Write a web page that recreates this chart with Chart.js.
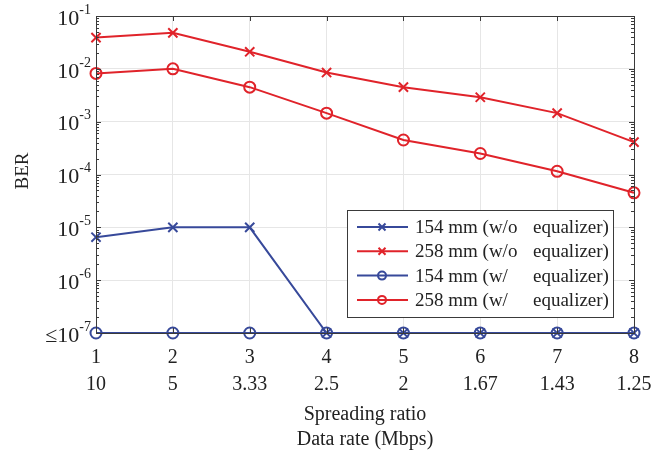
<!DOCTYPE html>
<html>
<head>
<meta charset="utf-8">
<script src="https://cdn.jsdelivr.net/npm/chart.js@4"></script>
<style>
  html, body { margin: 0; padding: 0; background: #fff; }
  #wrap { width: 663px; height: 453px; }
</style>
</head>
<body>
<div id="wrap"><canvas id="c" width="663" height="453"></canvas></div>
<script>
// ---- data ----
const ratioLabels = ['1', '2', '3', '4', '5', '6', '7', '8'];
const rateLabels = ['10', '5', '3.33', '2.5', '2', '1.67', '1.43', '1.25'];

const ber154NoEq = [6.5e-6, 1e-5, 1e-5, 1e-7, 1e-7, 1e-7, 1e-7, 1e-7];
const ber258NoEq = [3.9e-2, 4.8e-2, 2.1e-2, 8.5e-3, 4.5e-3, 2.9e-3, 1.45e-3, 4.1e-4];
const ber154Eq = [1e-7, 1e-7, 1e-7, 1e-7, 1e-7, 1e-7, 1e-7, 1e-7];
const ber258Eq = [8.2e-3, 1.0e-2, 4.5e-3, 1.45e-3, 4.5e-4, 2.5e-4, 1.15e-4, 4.5e-5];

const yDecades = [-1, -2, -3, -4, -5, -6, -7];

const BLUE = '#37499a';
const RED = '#e0232a';
const SERIF = '"Liberation Serif", "Times New Roman", serif';

const SERIES = [
  { label: '154 mm (w/o', tail: 'equalizer)', data: ber154NoEq, color: BLUE, style: 'crossRot' },
  { label: '258 mm (w/o', tail: 'equalizer)', data: ber258NoEq, color: RED, style: 'crossRot' },
  { label: '154 mm (w/', tail: 'equalizer)', data: ber154Eq, color: BLUE, style: 'circle' },
  { label: '258 mm (w/', tail: 'equalizer)', data: ber258Eq, color: RED, style: 'circle' }
];

// ---- custom drawing: frame, minor ticks, y labels, titles, legend ----
const decor = {
  id: 'decor',
  afterDraw(chart) {
    const { ctx, chartArea: a, scales } = chart;
    const y = scales.y, x = scales.x;
    ctx.save();

    // frame
    ctx.strokeStyle = '#3a3a3a';
    ctx.lineWidth = 1;
    ctx.strokeRect(a.left + 0.5, a.top + 0.5, a.right - a.left, a.bottom - a.top);

    // log tick marks on left/right
    ctx.beginPath();
    for (let e = -7; e < -1; e++) {
      for (let m = 1; m < 10; m++) {
        const py = Math.round(y.getPixelForValue(m * Math.pow(10, e))) + 0.5;
        const len = m === 1 ? 5 : 3;
        ctx.moveTo(a.left, py); ctx.lineTo(a.left + len, py);
        ctx.moveTo(a.right, py); ctx.lineTo(a.right - len, py);
      }
    }
    // x tick marks top/bottom
    ratioLabels.forEach((_, i) => {
      const px = Math.round(x.getPixelForValue(i)) + 0.5;
      ctx.moveTo(px, a.top); ctx.lineTo(px, a.top + 5);
      ctx.moveTo(px, a.bottom); ctx.lineTo(px, a.bottom - 5);
    });
    ctx.stroke();

    // y tick labels 10^n
    ctx.fillStyle = '#222';
    ctx.textBaseline = 'middle';
    yDecades.forEach(e => {
      const py = y.getPixelForValue(Math.pow(10, e));
      ctx.font = '14px ' + SERIF;
      const sup = String(e);
      const supW = ctx.measureText(sup).width;
      ctx.font = '22px ' + SERIF;
      const baseW = ctx.measureText('10').width;
      const right = a.left - 5;
      ctx.textAlign = 'left';
      ctx.fillText('10', right - supW - baseW, py + 3);
      ctx.font = '14px ' + SERIF;
      ctx.fillText(sup, right - supW, py - 6);
      if (e === -7) {
        ctx.font = '22px ' + SERIF;
        ctx.textAlign = 'right';
        ctx.fillText('\u2264', right - supW - baseW, py + 3);
      }
    });

    // axis titles
    ctx.font = '20px ' + SERIF;
    ctx.textAlign = 'center';
    ctx.fillText('Spreading ratio', (a.left + a.right) / 2, 415);
    ctx.fillText('Data rate (Mbps)', (a.left + a.right) / 2, 440);
    ctx.save();
    ctx.translate(23, 171);
    ctx.rotate(-Math.PI / 2);
    ctx.font = '19px ' + SERIF;
    ctx.fillText('BER', 0, 0);
    ctx.restore();

    // legend
    const bx = 347, by = 210, bw = 266, bh = 107;
    ctx.fillStyle = '#fff';
    ctx.fillRect(bx, by, bw, bh);
    ctx.strokeStyle = '#3a3a3a';
    ctx.lineWidth = 1;
    ctx.strokeRect(bx + 0.5, by + 0.5, bw, bh);
    SERIES.forEach((s, i) => {
      const ry = by + 17 + i * 24.3;
      ctx.strokeStyle = s.color;
      ctx.lineWidth = 2;
      ctx.beginPath();
      ctx.moveTo(bx + 10, ry); ctx.lineTo(bx + 61, ry);
      ctx.stroke();
      ctx.beginPath();
      if (s.style === 'circle') {
        ctx.arc(bx + 35, ry, 4, 0, Math.PI * 2);
      } else {
        ctx.moveTo(bx + 31.5, ry - 3.5); ctx.lineTo(bx + 38.5, ry + 3.5);
        ctx.moveTo(bx + 38.5, ry - 3.5); ctx.lineTo(bx + 31.5, ry + 3.5);
      }
      ctx.stroke();
      ctx.fillStyle = '#222';
      ctx.font = '19px ' + SERIF;
      ctx.textAlign = 'left';
      ctx.fillText(s.label, bx + 68, ry + 1);
      ctx.fillText(s.tail, bx + 186, ry + 1);
    });
    ctx.restore();
  }
};

new Chart(document.getElementById('c'), {
  type: 'line',
  data: {
    labels: ratioLabels,
    datasets: SERIES.map(s => ({
      label: s.label + ' ' + s.tail,
      data: s.data,
      borderColor: s.color,
      backgroundColor: 'rgba(0,0,0,0)',
      borderWidth: 2,
      pointStyle: s.style,
      pointRadius: s.style === 'circle' ? 5.5 : 6.5,
      pointBorderWidth: 2,
      pointBorderColor: s.color,
      tension: 0,
      clip: 8
    })).reverse()
  },
  options: {
    responsive: false,
    animation: false,
    layout: { padding: { top: 16, right: 29, left: 0, bottom: 0 } },
    plugins: { legend: { display: false }, tooltip: { enabled: false } },
    scales: {
      x: {
        type: 'category',
        offset: false,
        border: { display: false },
        grid: { color: '#e6e6e6', drawTicks: false },
        afterFit(s) { s.height = 120; },
        ticks: {
          color: '#222',
          font: { family: SERIF, size: 20, lineHeight: 1.35 },
          padding: 11,
          maxRotation: 0,
          autoSkip: false,
          callback: (v, i) => [ratioLabels[i], rateLabels[i]]
        }
      },
      y: {
        type: 'logarithmic',
        min: 1e-7,
        max: 1e-1,
        border: { display: false },
        afterFit(s) { s.width = 96; },
        grid: {
          drawTicks: false,
          color: c => {
            const v = c.tick && c.tick.value;
            if (!v) return 'transparent';
            const l = Math.log10(v);
            return Math.abs(l - Math.round(l)) < 1e-6 ? '#e6e6e6' : 'transparent';
          }
        },
        ticks: { display: false }
      }
    }
  },
  plugins: [decor]
});
</script>
</body>
</html>
